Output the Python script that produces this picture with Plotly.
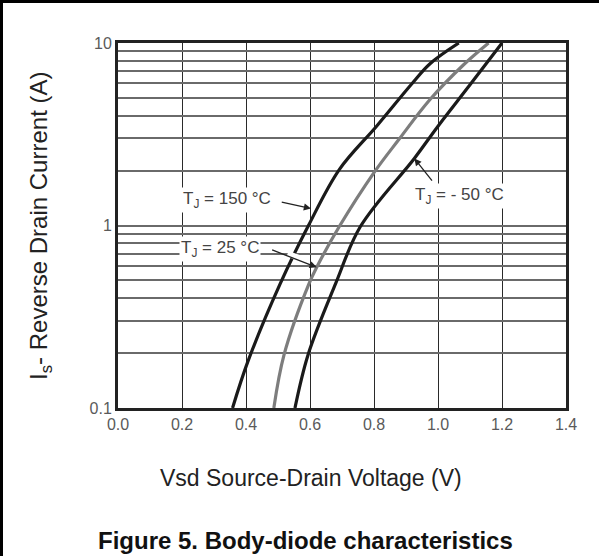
import plotly.graph_objects as go
import math

# ---- data ----
v_150 = [0.358, 0.406, 0.507, 0.594, 0.692, 0.808, 0.919, 0.975, 1.065]
i_150 = [0.1, 0.18, 0.48, 0.99, 2.03, 3.5, 6.0, 7.7, 10]

v_25 = [0.487, 0.519, 0.597, 0.623, 0.692, 0.800, 0.877, 0.975, 1.080, 1.158]
i_25 = [0.1, 0.196, 0.48, 0.6, 0.99, 1.95, 2.95, 4.9, 7.6, 10]

v_m50 = [0.553, 0.594, 0.680, 0.758, 0.926, 1.000, 1.100, 1.200]
i_m50 = [0.1, 0.196, 0.48, 0.99, 2.33, 3.5, 5.9, 10]

x_ticks = [0.0, 0.2, 0.4, 0.6, 0.8, 1.0, 1.2, 1.4]
x_ticktext = ["0.0", "0.2", "0.4", "0.6", "0.8", "1.0", "1.2", "1.4"]
y_major = [0.1, 1, 10]
y_major_text = ["0.1", "1", "10"]

FONT = "Liberation Sans, Arial, sans-serif"

fig = go.Figure()
for vv, ii, col in [(v_150, i_150, "#1a1a1a"), (v_25, i_25, "#7d7d7d"), (v_m50, i_m50, "#1a1a1a")]:
    fig.add_trace(go.Scatter(x=vv, y=ii, mode="lines",
                             line=dict(color=col, width=3.2, shape="spline", smoothing=1.0),
                             hoverinfo="skip", showlegend=False))

# y grid values (log minor)
y_grid = []
for dec in [0.1, 1]:
    for k in range(1, 10):
        y_grid.append(round(dec * k, 3))
y_grid.append(10)
y_text = [(y_major_text[y_major.index(v)] if v in y_major else "") for v in y_grid]

L, R, T, B = 118, 33, 43, 148
W = 599 - L - R
H = 556 - T - B

def px(xp):
    return (xp - L) / W

def py(yp):
    return 1 - (yp - T) / H

fig.update_layout(
    width=599, height=556,
    margin=dict(l=L, r=R, t=T, b=B),
    paper_bgcolor="white", plot_bgcolor="white",
    font=dict(family=FONT),
    xaxis=dict(range=[0, 1.4], tickvals=x_ticks, ticktext=x_ticktext,
               showgrid=True, gridcolor="#2a2a2a", gridwidth=1,
               showline=True, linecolor="#222", linewidth=3, mirror=True,
               ticks="", tickfont=dict(size=16, color="#5a5a5a"), zeroline=False),
    yaxis=dict(type="log", range=[-1, 1], tickvals=y_grid, ticktext=y_text,
               showgrid=True, gridcolor="#6a6a6a", gridwidth=1.6,
               showline=True, linecolor="#222", linewidth=3, mirror=True,
               ticks="", tickfont=dict(size=16, color="#5a5a5a"), zeroline=False),
)

# axis titles
fig.add_annotation(x=px(311), y=py(478), xref="paper", yref="paper",
                   xanchor="center", yanchor="middle",
                   text="Vsd Source-Drain Voltage (V)", showarrow=False,
                   font=dict(size=23, color="#222", family=FONT))
fig.add_annotation(x=px(40), y=py(226), xref="paper", yref="paper", textangle=-90,
                   xanchor="center", yanchor="middle",
                   text="I<sub>s</sub>- Reverse Drain Current (A)", showarrow=False,
                   font=dict(size=24, color="#222", family=FONT))

# white break beneath the 25 °C arrow where it crosses the 150 °C curve
fig.add_shape(type="line", xref="x", yref="y", x0=0.53, y0=0.70, x1=0.575, y1=0.655,
              line=dict(color="white", width=6), layer="above")

arrows = [
    # (tail V, tail I, tip V, tip I)
    (0.507, 1.35, 0.603, 1.24),
    (0.477, 0.74, 0.621, 0.59),
    (0.985, 1.73, 0.926, 2.33),
]
for tv, ti, hv, hi in arrows:
    fig.add_annotation(x=hv, y=math.log10(hi), ax=tv, ay=math.log10(ti),
                       axref="x", ayref="y", xref="x", yref="y", text="",
                       showarrow=True, arrowhead=2, arrowsize=1.1, arrowwidth=1.3,
                       arrowcolor="#222")

labels = [
    ("T<sub>J</sub> = 150 °C", 0.340, 1.38),
    ("T<sub>J</sub> = 25 °C", 0.320, 0.74),
    ("T<sub>J</sub> = - 50 °C", 1.066, 1.45),
]
for txt, vx, iy in labels:
    fig.add_annotation(x=vx, y=math.log10(iy), xref="x", yref="y", text=txt,
                       showarrow=False, bgcolor="white", borderpad=1,
                       xanchor="center", yanchor="middle",
                       font=dict(size=17, color="#444", family=FONT))

# caption
fig.add_annotation(x=px(305), y=py(540), xref="paper", yref="paper",
                   xanchor="center", yanchor="middle",
                   text="<b>Figure 5. Body-diode characteristics</b>", showarrow=False,
                   font=dict(size=24, color="#111", family=FONT))

# outer border (left and top) as filled rectangles
fig.add_shape(type="rect", xref="paper", yref="paper", x0=px(0), x1=px(3), y0=py(0), y1=py(556),
              line=dict(width=0), fillcolor="black", layer="above")
fig.add_shape(type="rect", xref="paper", yref="paper", x0=px(0), x1=px(599), y0=py(0), y1=py(3),
              line=dict(width=0), fillcolor="black", layer="above")

fig.write_html("out.html", config={"displayModeBar": False},
               post_script="document.body.style.margin='0';")
